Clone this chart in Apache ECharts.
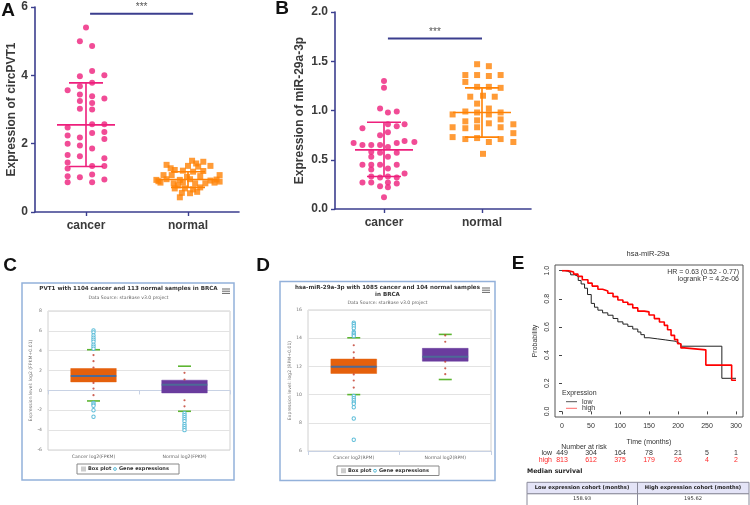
<!DOCTYPE html>
<html><head><meta charset="utf-8">
<script src="https://cdn.jsdelivr.net/npm/echarts@6/dist/echarts.min.js"></script>
<style>html,body{margin:0;padding:0;background:#fff}#c{width:750px;height:505px}</style>
</head><body><div id="c"></div>
<script>
// ---------- Panel A ----------
const aCats = ['cancer', 'normal'];
const aCancer = [[0.50,5.40],[0.44,5.00],[0.56,4.86],[0.44,3.97],[0.56,4.13],[0.68,4.00],[0.32,3.56],[0.44,3.68],[0.56,3.78],[0.44,3.44],[0.56,3.39],[0.68,3.32],[0.44,3.25],[0.56,3.19],[0.44,3.02],[0.56,3.00],[0.32,2.47],[0.56,2.57],[0.68,2.57],[0.32,2.24],[0.56,2.31],[0.68,2.34],[0.44,2.18],[0.68,2.14],[0.32,2.00],[0.44,1.95],[0.56,1.86],[0.32,1.67],[0.44,1.63],[0.32,1.45],[0.68,1.57],[0.32,1.27],[0.56,1.35],[0.68,1.35],[0.32,1.05],[0.44,1.02],[0.56,1.10],[0.68,0.95],[0.32,0.87],[0.56,0.87]];
const aNormal = [[1.54,1.50],[1.65,1.47],[1.29,1.38],[1.50,1.35],[1.72,1.35],[1.60,1.33],[1.37,1.23],[1.45,1.21],[1.55,1.18],[1.65,1.20],[1.26,1.08],[1.34,1.08],[1.49,1.03],[1.62,1.05],[1.81,1.08],[1.19,0.94],[1.29,0.96],[1.42,0.94],[1.52,0.96],[1.72,0.92],[1.81,0.89],[1.23,0.86],[1.36,0.84],[1.45,0.86],[1.57,0.84],[1.67,0.84],[1.76,0.86],[1.37,0.69],[1.47,0.69],[1.55,0.66],[1.44,0.56],[1.52,0.55],[1.59,0.59],[1.42,0.43],[1.33,1.28],[1.58,1.42],[1.40,0.78],[1.62,0.72],[1.78,0.95],[1.21,0.90]];
const aStats = [[0.5, 2.55, 1.33, 3.78], [1.5, 0.95, 0.72, 1.18]];
const aSig = [[0.54, 5.8], [1.55, 5.8]];

// ---------- Panel B ----------
const bCats = ['cancer', 'normal'];
const bCancer = [[0.50,1.30],[0.50,1.23],[0.46,1.02],[0.54,0.98],[0.63,0.99],[0.28,0.82],[0.54,0.86],[0.63,0.84],[0.71,0.86],[0.46,0.75],[0.54,0.78],[0.19,0.67],[0.28,0.65],[0.37,0.65],[0.46,0.65],[0.54,0.63],[0.63,0.67],[0.71,0.69],[0.81,0.68],[0.37,0.58],[0.46,0.57],[0.63,0.57],[0.37,0.53],[0.54,0.53],[0.28,0.45],[0.37,0.45],[0.46,0.45],[0.63,0.45],[0.37,0.40],[0.54,0.41],[0.37,0.33],[0.46,0.32],[0.54,0.33],[0.63,0.32],[0.71,0.36],[0.28,0.27],[0.37,0.27],[0.54,0.27],[0.63,0.26],[0.46,0.23],[0.54,0.22],[0.50,0.12]];
const bNormal = [[1.45,1.47],[1.57,1.45],[1.33,1.36],[1.45,1.36],[1.57,1.35],[1.69,1.36],[1.33,1.29],[1.45,1.24],[1.57,1.24],[1.69,1.23],[1.38,1.14],[1.51,1.15],[1.63,1.14],[1.45,1.07],[1.57,1.02],[1.20,0.96],[1.33,0.99],[1.45,0.98],[1.57,0.96],[1.69,0.98],[1.33,0.89],[1.45,0.90],[1.57,0.87],[1.69,0.91],[1.82,0.86],[1.20,0.83],[1.33,0.82],[1.45,0.83],[1.69,0.83],[1.82,0.77],[1.20,0.73],[1.33,0.71],[1.45,0.72],[1.69,0.71],[1.82,0.68],[1.57,0.68],[1.51,0.56]];
const bStats = [[0.5, 0.60, 0.33, 0.88], [1.5, 0.98, 0.73, 1.23]];
const bSig = [[0.54, 1.73], [1.50, 1.73]];

// ---------- Panel C (PVT1, starBase) ----------
const cCats = ['Cancer log2(FPKM)', 'Normal log2(FPKM)'];
const cBox = [[0, -1.06, 0.86, 1.46, 2.21, 4.1], [1, -2.1, -0.25, 0.58, 1.03, 2.44]];
const cDotsCancer = [3.56, 2.95, 2.31, 0.76, 0.19, -0.48];
const cDotsNormal = [1.77, 1.1, -0.99, -1.6];
const cOutCancer = [6.05, 5.85, 5.55, 5.3, 5.1, 4.9, 4.6, 4.4, 4.2, -1.25, -1.4, -1.55, -2.0, -2.65];
const cOutNormal = [-2.3, -2.5, -2.7, -2.9, -3.1, -3.4, -3.6, -3.8, -4.0];

// ---------- Panel D (miR-29a-3p, starBase) ----------
const dCats = ['Cancer log2(RPM)', 'Normal log2(RPM)'];
const dBox = [[0, 10.0, 11.5, 11.97, 12.52, 14.03], [1, 11.07, 12.37, 12.68, 13.28, 14.27]];
const dDotsCancer = [13.5, 13.0, 12.6, 11.43, 11.0, 10.5];
const dDotsNormal = [14.2, 13.75, 12.33, 11.86, 11.45];
const dOutCancer = [15.1, 15.0, 14.85, 14.7, 14.45, 14.35, 14.25, 14.15, 9.9, 9.75, 9.6, 9.45, 9.35, 9.1, 8.3, 6.8];

// ---------- Panel E (Kaplan-Meier) ----------
const kmLow = [[0,1.0],[5,0.995],[10,0.985],[15,0.97],[21.7,0.959],[28,0.93],[33,0.905],[38.9,0.875],[44,0.83],[50.4,0.767],[56,0.74],[61.9,0.719],[70,0.70],[79,0.683],[88,0.66],[96.3,0.636],[105,0.62],[113.5,0.604],[122,0.585],[130.7,0.564],[136,0.545],[142,0.523],[150,0.515],[165,0.508],[178,0.502],[188,0.499],[195,0.49],[199.4,0.48],[205,0.463],[275.6,0.235],[300,0.235]];
const kmHigh = [[0,1.0],[10,0.99],[20,0.975],[27.5,0.959],[35,0.935],[44.7,0.911],[52,0.89],[61.9,0.868],[70,0.855],[79,0.839],[88,0.815],[96.3,0.791],[105,0.775],[113.5,0.760],[122,0.735],[130.7,0.712],[142,0.707],[150,0.685],[159.2,0.659],[168,0.635],[176.4,0.611],[182,0.58],[188,0.540],[194,0.51],[199.4,0.480],[205,0.451],[210.8,0.437],[248,0.329],[292.5,0.221],[300,0.221]];
const kmLowCensor = [[210,0.463],[218,0.463],[226,0.463],[234,0.463],[242,0.463],[250,0.463],[258,0.463],[266,0.463],[273,0.463],[302,0.235]];
const kmHighCensor = [[214,0.437],[220,0.437],[226,0.437],[232,0.437],[240,0.437],[300,0.221]];
const riskTimes = [0, 50, 100, 150, 200, 250, 300];
const riskLow = [449, 304, 164, 78, 21, 5, 1];
const riskHigh = [813, 612, 375, 179, 26, 4, 2];
const medianLow = '158.93';
const medianHigh = '195.62';

// ---------- styles ----------
const PINK = '#ee1f7c', ORANGE = '#ff8205', NAVY = '#3b3e8e', TXT = '#3a3a3a';
const SANS = 'Liberation Sans';
const HC = 'DejaVu Sans';
const CYAN = '#5bbcd8';

const chart = echarts.init(document.getElementById('c'), null, {renderer: 'canvas'});

function statsRender(colors) {
  return function (params, api) {
    const x = api.value(0), m = api.value(1), lo = api.value(2), hi = api.value(3);
    const pm = api.coord([x, m]), pl = api.coord([x, lo]), ph = api.coord([x, hi]);
    const st = {stroke: colors[params.dataIndex], lineWidth: 1.6};
    const hm = 29, hc = 17;
    return {type: 'group', children: [
      {type: 'line', shape: {x1: pm[0] - hm, y1: pm[1], x2: pm[0] + hm, y2: pm[1]}, style: st},
      {type: 'line', shape: {x1: pl[0], y1: pl[1], x2: ph[0], y2: ph[1]}, style: st},
      {type: 'line', shape: {x1: pl[0] - hc, y1: pl[1], x2: pl[0] + hc, y2: pl[1]}, style: st},
      {type: 'line', shape: {x1: ph[0] - hc, y1: ph[1], x2: ph[0] + hc, y2: ph[1]}, style: st}
    ]};
  };
}
function boxRender(colors) {
  return function (params, api) {
    const i = api.value(0);
    const plo = api.coord([i, api.value(1)]), pq1 = api.coord([i, api.value(2)]),
      pm = api.coord([i, api.value(3)]), pq3 = api.coord([i, api.value(4)]), phi = api.coord([i, api.value(5)]);
    const w = api.size([1, 0])[0] * 0.5;
    const cx = pq1[0];
    const cap = {stroke: '#5db532', lineWidth: 1.6};
    return {type: 'group', children: [
      {type: 'rect', shape: {x: cx - w / 2, y: pq3[1], width: w, height: pq1[1] - pq3[1]}, style: {fill: colors[i], stroke: colors[i], lineWidth: 0.5}},
      {type: 'line', shape: {x1: cx - w / 2, y1: pm[1], x2: cx + w / 2, y2: pm[1]}, style: {stroke: '#4d6a96', lineWidth: 2}},
      {type: 'line', shape: {x1: cx - 6.5, y1: plo[1], x2: cx + 6.5, y2: plo[1]}, style: cap},
      {type: 'line', shape: {x1: cx - 6.5, y1: phi[1], x2: cx + 6.5, y2: phi[1]}, style: cap}
    ]};
  };
}
const toPairs = (idx, arr) => arr.map(v => [idx, v]);

function abYAxis(grid, min, max, interval, name, dec) {
  return {
    gridIndex: grid, type: 'value', min: min, max: max, interval: interval,
    name: name, nameLocation: 'middle', nameGap: dec ? 29 : 17, nameRotate: 90,
    nameTextStyle: {fontFamily: SANS, fontWeight: 'bold', fontSize: 12, color: TXT},
    axisLine: {show: true, lineStyle: {color: NAVY, width: 1.6}},
    axisTick: {show: true, length: 4, lineStyle: {color: NAVY, width: 1.4}},
    axisLabel: {fontFamily: SANS, fontWeight: 'bold', fontSize: 12, color: TXT, margin: 7,
      formatter: v => dec ? v.toFixed(1) : String(v)},
    splitLine: {show: false}
  };
}
function abXCat(grid, cats) {
  return {
    gridIndex: grid, type: 'category', data: cats, boundaryGap: true,
    axisLine: {show: true, lineStyle: {color: NAVY, width: 1.6}},
    axisTick: {show: true, alignWithLabel: true, length: 4, lineStyle: {color: NAVY, width: 1.4}},
    axisLabel: {fontFamily: SANS, fontWeight: 'bold', fontSize: 12, color: TXT, margin: 8},
    splitLine: {show: false}
  };
}
function hcYAxis(grid, min, max, name) {
  return {
    gridIndex: grid, type: 'value', min: min, max: max, interval: 2,
    name: name, nameLocation: 'middle', nameGap: 12, nameRotate: 90,
    nameTextStyle: {fontFamily: HC, fontSize: 4.6, color: '#777'},
    axisLine: {show: false}, axisTick: {show: false},
    axisLabel: {fontFamily: HC, fontSize: 4.6, color: '#777', margin: 6},
    splitLine: {show: true, lineStyle: {color: '#e3e3e3', width: 1}}
  };
}
function hcXCat(grid, cats) {
  return {
    gridIndex: grid, type: 'category', data: cats, boundaryGap: true,
    axisLine: {show: true, lineStyle: {color: '#c8d2e4', width: 1}},
    axisTick: {show: true, length: 4, lineStyle: {color: '#c8d2e4'}},
    axisLabel: {fontFamily: HC, fontSize: 4.6, color: '#666', margin: 4}
  };
}
function outlierSeries(xi, yi, data) {
  return {type: 'scatter', xAxisIndex: xi, yAxisIndex: yi, data: data, symbol: 'circle', symbolSize: 3.4,
    itemStyle: {color: '#ffffff', borderColor: CYAN, borderWidth: 1, opacity: 1}, z: 5};
}

const option = {
  animation: false,
  backgroundColor: '#fff',
  grid: [
    {left: 35, top: 7, width: 204, height: 205},
    {left: 335, top: 12, width: 196, height: 197},
    {left: 48, top: 311, width: 182, height: 139, show: true, borderColor: '#d0d0d0', borderWidth: 1, backgroundColor: '#fff'},
    {left: 308, top: 310, width: 183, height: 141, show: true, borderColor: '#d0d0d0', borderWidth: 1, backgroundColor: '#fff'},
    {left: 562, top: 270.6, width: 174, height: 140.8}
  ],
  xAxis: [
    abXCat(0, aCats),
    {gridIndex: 0, type: 'value', min: 0, max: 2, show: false},
    abXCat(1, bCats),
    {gridIndex: 1, type: 'value', min: 0, max: 2, show: false},
    hcXCat(2, cCats),
    hcXCat(3, dCats),
    {gridIndex: 4, type: 'value', min: 0, max: 300, interval: 50, offset: 7,
      name: 'Time (months)', nameLocation: 'middle', nameGap: 20,
      nameTextStyle: {fontFamily: SANS, fontSize: 7, color: '#333'},
      axisLine: {show: false}, axisTick: {show: true, length: 3, lineStyle: {color: '#444'}},
      axisLabel: {fontFamily: SANS, fontSize: 7, color: '#333', margin: 4}, splitLine: {show: false}}
  ],
  yAxis: [
    abYAxis(0, 0, 6, 2, 'Expression of circPVT1', false),
    abYAxis(1, 0, 2, 0.5, 'Expression of miR-29a-3p', true),
    hcYAxis(2, -6, 8, 'Expression level: log2 (FPKM+0.01)'),
    hcYAxis(3, 6, 16, 'Expression level: log2 (RPM+0.01)'),
    {gridIndex: 4, type: 'value', min: 0, max: 1, interval: 0.2, offset: 7,
      name: 'Probability', nameLocation: 'middle', nameGap: 16, nameRotate: 90,
      nameTextStyle: {fontFamily: SANS, fontSize: 7, color: '#333'},
      axisLine: {show: false}, axisTick: {show: true, length: 3, lineStyle: {color: '#444'}},
      axisLabel: {fontFamily: SANS, fontSize: 7, color: '#333', margin: 4, rotate: 90, formatter: v => v.toFixed(1)},
      splitLine: {show: false}}
  ],
  series: [
    // A
    {type: 'scatter', xAxisIndex: 1, yAxisIndex: 0, data: aCancer, symbol: 'circle', symbolSize: 6, itemStyle: {color: PINK}, z: 3},
    {type: 'scatter', xAxisIndex: 1, yAxisIndex: 0, data: aNormal, symbol: 'rect', symbolSize: 6, itemStyle: {color: ORANGE}, z: 3},
    {type: 'custom', xAxisIndex: 1, yAxisIndex: 0, data: aStats, renderItem: statsRender([PINK, ORANGE]), z: 4},
    {type: 'line', xAxisIndex: 1, yAxisIndex: 0, data: aSig, symbol: 'none', lineStyle: {color: NAVY, width: 2}, z: 4},
    // B
    {type: 'scatter', xAxisIndex: 3, yAxisIndex: 1, data: bCancer, symbol: 'circle', symbolSize: 6, itemStyle: {color: PINK}, z: 3},
    {type: 'scatter', xAxisIndex: 3, yAxisIndex: 1, data: bNormal, symbol: 'rect', symbolSize: 6, itemStyle: {color: ORANGE}, z: 3},
    {type: 'custom', xAxisIndex: 3, yAxisIndex: 1, data: bStats, renderItem: statsRender([PINK, ORANGE]), z: 4},
    {type: 'line', xAxisIndex: 3, yAxisIndex: 1, data: bSig, symbol: 'none', lineStyle: {color: NAVY, width: 2}, z: 4},
    // C
    {type: 'custom', xAxisIndex: 4, yAxisIndex: 2, data: cBox, renderItem: boxRender(['#e5600c', '#6a3c9e']), z: 2},
    {type: 'scatter', xAxisIndex: 4, yAxisIndex: 2, data: toPairs(0, cDotsCancer).concat(toPairs(1, cDotsNormal)), symbol: 'circle', symbolSize: 2.2, itemStyle: {color: '#c0392b'}, z: 3},
    outlierSeries(4, 2, toPairs(0, cOutCancer).concat(toPairs(1, cOutNormal))),
    // D
    {type: 'custom', xAxisIndex: 5, yAxisIndex: 3, data: dBox, renderItem: boxRender(['#e5600c', '#6a3c9e']), z: 2},
    {type: 'scatter', xAxisIndex: 5, yAxisIndex: 3, data: toPairs(0, dDotsCancer).concat(toPairs(1, dDotsNormal)), symbol: 'circle', symbolSize: 2.2, itemStyle: {color: '#c0392b'}, z: 3},
    outlierSeries(5, 3, toPairs(0, dOutCancer)),
    // E
    {type: 'line', xAxisIndex: 6, yAxisIndex: 4, data: kmLow, step: 'end', symbol: 'none', lineStyle: {color: '#222', width: 1}, z: 3},
    {type: 'line', xAxisIndex: 6, yAxisIndex: 4, data: kmHigh, step: 'end', symbol: 'none', lineStyle: {color: '#ff0000', width: 1.6}, z: 4},
    {type: 'scatter', xAxisIndex: 6, yAxisIndex: 4, data: kmLowCensor, symbol: 'path://M0,0L0,10', symbolSize: [1, 4], itemStyle: {color: 'none', borderColor: '#222', borderWidth: 0.8}, z: 3, clip: false},
    {type: 'scatter', xAxisIndex: 6, yAxisIndex: 4, data: kmHighCensor, symbol: 'path://M0,0L0,10', symbolSize: [1, 4], itemStyle: {color: 'none', borderColor: '#ff0000', borderWidth: 0.8}, z: 4, clip: false}
  ]
};
chart.setOption(option);

// ---------- annotation / frame graphics ----------
const g = [];
function txt(x, y, s, o) {
  g.push({type: 'text', x: x, y: y, z: 10, style: Object.assign({text: s, fontFamily: SANS, fontSize: 7, fill: '#333', textAlign: 'center', textVerticalAlign: 'middle'}, o || {})});
}
function ln(x1, y1, x2, y2, c, w) {
  g.push({type: 'line', z: 10, shape: {x1: x1, y1: y1, x2: x2, y2: y2}, style: {stroke: c, lineWidth: w}});
}
// panel letters
txt(8, 11, 'A', {fontSize: 19, fontWeight: 'bold', fill: '#111'});
txt(282, 9, 'B', {fontSize: 19, fontWeight: 'bold', fill: '#111'});
txt(10, 266, 'C', {fontSize: 19, fontWeight: 'bold', fill: '#111'});
txt(263, 266, 'D', {fontSize: 19, fontWeight: 'bold', fill: '#111'});
txt(518, 264, 'E', {fontSize: 19, fontWeight: 'bold', fill: '#111'});
// significance stars
const pA1 = chart.convertToPixel({xAxisIndex: 1, yAxisIndex: 0}, aSig[0]);
const pA2 = chart.convertToPixel({xAxisIndex: 1, yAxisIndex: 0}, aSig[1]);
txt((pA1[0] + pA2[0]) / 2, pA1[1] - 7, '***', {fontSize: 10, fill: '#555'});
const pB1 = chart.convertToPixel({xAxisIndex: 3, yAxisIndex: 1}, bSig[0]);
const pB2 = chart.convertToPixel({xAxisIndex: 3, yAxisIndex: 1}, bSig[1]);
txt((pB1[0] + pB2[0]) / 2, pB1[1] - 6, '***', {fontSize: 10, fill: '#555'});

// C & D frames
function hcFrame(x, y, w, h) {
  g.push({type: 'rect', z: -1, shape: {x: x, y: y, width: w, height: h}, style: {fill: '#fff', stroke: '#93b1da', lineWidth: 1.5}});
}
hcFrame(22, 283, 212, 197);
hcFrame(280, 281.5, 215, 199);
txt(128.5, 289, 'PVT1 with 1104 cancer and 113 normal samples in BRCA', {fontFamily: HC, fontSize: 5.6, fontWeight: 'bold', fill: '#333'});
txt(128.5, 298, 'Data Source: starBase v3.0 project', {fontFamily: HC, fontSize: 4.6, fill: '#666'});
txt(387.5, 291.5, 'hsa-miR-29a-3p with 1085 cancer and 104 normal samples\nin BRCA', {fontFamily: HC, fontSize: 5.6, fontWeight: 'bold', fill: '#333', lineHeight: 7});
txt(387.5, 303, 'Data Source: starBase v3.0 project', {fontFamily: HC, fontSize: 4.6, fill: '#666'});
// menu icons
[[222, 289], [482, 288]].forEach(function (p) {
  for (let k = 0; k < 3; k++) ln(p[0], p[1] + k * 2.2, p[0] + 8, p[1] + k * 2.2, '#666', 1);
});
// C/D legends
function hcLegend(x, y, w, h) {
  g.push({type: 'rect', z: 10, shape: {x: x, y: y, width: w, height: h}, style: {fill: '#fff', stroke: '#888', lineWidth: 1}});
  g.push({type: 'rect', z: 10, shape: {x: x + 4, y: y + h / 2 - 2.5, width: 5, height: 5}, style: {fill: '#cccccc'}});
  txt(x + 11, y + h / 2, 'Box plot', {fontFamily: HC, fontSize: 5, fontWeight: 'bold', fill: '#333', textAlign: 'left'});
  g.push({type: 'circle', z: 10, shape: {cx: x + 38, cy: y + h / 2, r: 1.4}, style: {fill: '#fff', stroke: CYAN, lineWidth: 1}});
  txt(x + 42, y + h / 2, 'Gene expressions', {fontFamily: HC, fontSize: 5, fontWeight: 'bold', fill: '#333', textAlign: 'left'});
}
hcLegend(77, 464, 102, 10);
hcLegend(337, 466, 102, 9.5);

// E panel
g.push({type: 'rect', z: 1, shape: {x: 555, y: 265, width: 188, height: 152}, style: {fill: 'none', stroke: '#555', lineWidth: 1}});
txt(648, 254, 'hsa-miR-29a', {fontSize: 7.5});
txt(739, 272.3, 'HR = 0.63 (0.52 - 0.77)', {textAlign: 'right'});
txt(739, 279.2, 'logrank P = 4.2e-06', {textAlign: 'right'});
txt(562, 392.7, 'Expression', {textAlign: 'left'});
ln(566, 401.7, 577, 401.7, '#555', 1);
ln(566, 408.3, 577, 408.3, '#ff6a6a', 1);
txt(582, 401.7, 'low', {textAlign: 'left'});
txt(582, 408.3, 'high', {textAlign: 'left'});
txt(584, 446.7, 'Number at risk');
txt(552, 453.3, 'low', {textAlign: 'right'});
txt(552, 460, 'high', {textAlign: 'right', fill: '#ff2a2a'});
riskTimes.forEach(function (t, i) {
  const px = chart.convertToPixel({xAxisIndex: 6}, t);
  txt(px, 453.3, String(riskLow[i]));
  txt(px, 460, String(riskHigh[i]), {fill: '#ff2a2a'});
});
txt(527, 471.7, 'Median survival', {textAlign: 'left', fontFamily: HC, fontWeight: 'bold', fontSize: 6.2, fill: '#222'});
g.push({type: 'rect', z: 1, shape: {x: 527, y: 482.3, width: 222, height: 11.5}, style: {fill: '#e4e4f7', stroke: '#8a8a9a', lineWidth: 1}});
g.push({type: 'rect', z: 1, shape: {x: 527, y: 493.8, width: 222, height: 12}, style: {fill: '#fff', stroke: '#8a8a9a', lineWidth: 1}});
ln(637.5, 482.3, 637.5, 505, '#8a8a9a', 1);
txt(582, 488, 'Low expression cohort (months)', {fontFamily: HC, fontWeight: 'bold', fontSize: 5.2, fill: '#222'});
txt(693, 488, 'High expression cohort (months)', {fontFamily: HC, fontWeight: 'bold', fontSize: 5.2, fill: '#222'});
txt(582, 498.5, medianLow, {fontFamily: HC, fontSize: 5.2, fill: '#333'});
txt(693, 498.5, medianHigh, {fontFamily: HC, fontSize: 5.2, fill: '#333'});

chart.setOption({graphic: g});
</script></body></html>
